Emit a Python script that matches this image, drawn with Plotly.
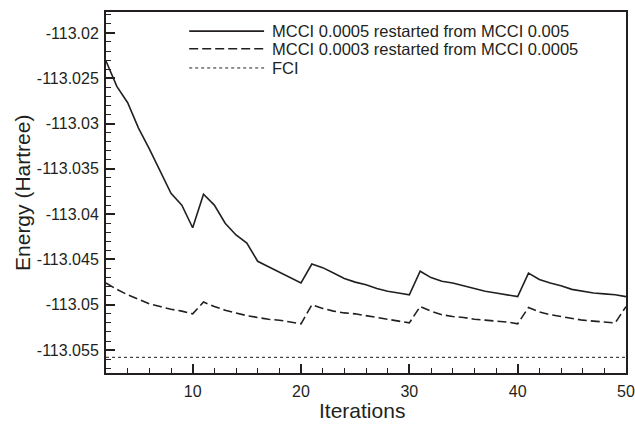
import plotly.graph_objects as go

iterations = list(range(2, 51))

mcci_0005 = [
    -113.0231, -113.0259, -113.0277, -113.0305, -113.0328, -113.0352, -113.0377, -113.0390, -113.0415,
    -113.0378, -113.0390, -113.0410, -113.0423, -113.0432, -113.0452, -113.0458, -113.0464, -113.0470, -113.0476,
    -113.0455, -113.0459, -113.0465, -113.0471, -113.0475, -113.0478, -113.0482, -113.0485, -113.0487, -113.0489,
    -113.0463, -113.0470, -113.0474, -113.0476, -113.0479, -113.0482, -113.0485, -113.0487, -113.0489, -113.0491,
    -113.0465, -113.0472, -113.0476, -113.0479, -113.0483, -113.0485, -113.0487, -113.0488, -113.0489, -113.0491,
]

mcci_0003 = [
    -113.0476, -113.0483, -113.0489, -113.0494, -113.0499, -113.0502, -113.0505, -113.0507, -113.0510,
    -113.0497, -113.0502, -113.0506, -113.0509, -113.0512, -113.0514, -113.0516, -113.0517, -113.0519, -113.0521,
    -113.0500, -113.0504, -113.0507, -113.0509, -113.0510, -113.0512, -113.0514, -113.0516, -113.0518, -113.0520,
    -113.0502, -113.0507, -113.0511, -113.0513, -113.0514, -113.0516, -113.0517, -113.0518, -113.0519, -113.0521,
    -113.0503, -113.0508, -113.0511, -113.0513, -113.0515, -113.0517, -113.0518, -113.0519, -113.0520, -113.0502,
]

fci_energy = -113.0558

series_names = [
    "MCCI 0.0005 restarted from MCCI 0.005",
    "MCCI 0.0003 restarted from MCCI 0.0005",
    "FCI",
]

y_ticks = [-113.02, -113.025, -113.03, -113.035, -113.04, -113.045, -113.05, -113.055]
y_tick_labels = ["-113.02", "-113.025", "-113.03", "-113.035", "-113.04", "-113.045", "-113.05", "-113.055"]
x_ticks = [10, 20, 30, 40, 50]

FONT = "Liberation Sans, Arial, Helvetica, sans-serif"
INK = "#231f20"

styles = [
    dict(color=INK, width=1.6),
    dict(color=INK, width=1.6, dash="9px,4px"),
    dict(color=INK, width=1, dash="dot"),
]

fig = go.Figure()
fig.add_trace(go.Scatter(x=iterations, y=mcci_0005, mode="lines", name=series_names[0], line=styles[0]))
fig.add_trace(go.Scatter(x=iterations, y=mcci_0003, mode="lines", name=series_names[1], line=styles[1]))
fig.add_trace(go.Scatter(x=[iterations[0], iterations[-1]], y=[fci_energy, fci_energy], mode="lines",
                         name=series_names[2], line=styles[2]))

# Legend drawn in paper coordinates (compact row spacing as in the original)
legend_rows_y = [0.947, 0.898, 0.845]
for name, st, yy in zip(series_names, styles, legend_rows_y):
    fig.add_shape(type="line", xref="paper", yref="paper", x0=0.160, x1=0.304, y0=yy, y1=yy,
                  line=dict(color=st["color"], width=st["width"], dash=st.get("dash", "solid")))
    fig.add_annotation(xref="paper", yref="paper", x=0.316, y=yy, xanchor="left", yanchor="middle",
                       text=name, showarrow=False, font=dict(size=16.5, family=FONT, color=INK))

# Axis titles
fig.add_annotation(xref="paper", yref="paper", x=0.492, y=-0.1025, xanchor="center", yanchor="middle",
                   text="Iterations", showarrow=False, font=dict(size=21, family=FONT, color=INK))
fig.add_annotation(xref="paper", yref="paper", x=-0.1606, y=0.5, xanchor="center", yanchor="middle",
                   text="Energy (Hartree)", textangle=-90, showarrow=False,
                   font=dict(size=21, family=FONT, color=INK))

fig.update_layout(
    width=635, height=424,
    margin=dict(l=106, r=9, t=12, b=51, autoexpand=False),
    paper_bgcolor="white", plot_bgcolor="white",
    font=dict(family=FONT, size=16, color=INK),
    showlegend=False,
)

fig.update_xaxes(
    range=[2, 50], tickvals=x_ticks, ticks="inside", ticklen=9, tickwidth=1.5, tickcolor=INK,
    minor=dict(dtick=2, ticks="inside", ticklen=5, tickwidth=1, tickcolor=INK, showgrid=False),
    showline=True, linewidth=2, linecolor=INK, mirror=True, showgrid=False, zeroline=False,
    tickfont=dict(size=16, family=FONT, color=INK), ticklabelstandoff=3, automargin=False,
)
fig.update_yaxes(
    range=[-113.05753, -113.01769], tickvals=y_ticks, ticktext=y_tick_labels,
    ticks="inside", ticklen=9, tickwidth=1.5, tickcolor=INK,
    minor=dict(dtick=0.001, tick0=-113.02, ticks="inside", ticklen=5, tickwidth=1, tickcolor=INK, showgrid=False),
    showline=True, linewidth=2, linecolor=INK, mirror=True, showgrid=False, zeroline=False,
    tickfont=dict(size=16, family=FONT, color=INK), ticklabelstandoff=2, automargin=False,
)

fig.write_html("out.html", config={"displayModeBar": False},
               post_script="document.body.style.margin='0';")
